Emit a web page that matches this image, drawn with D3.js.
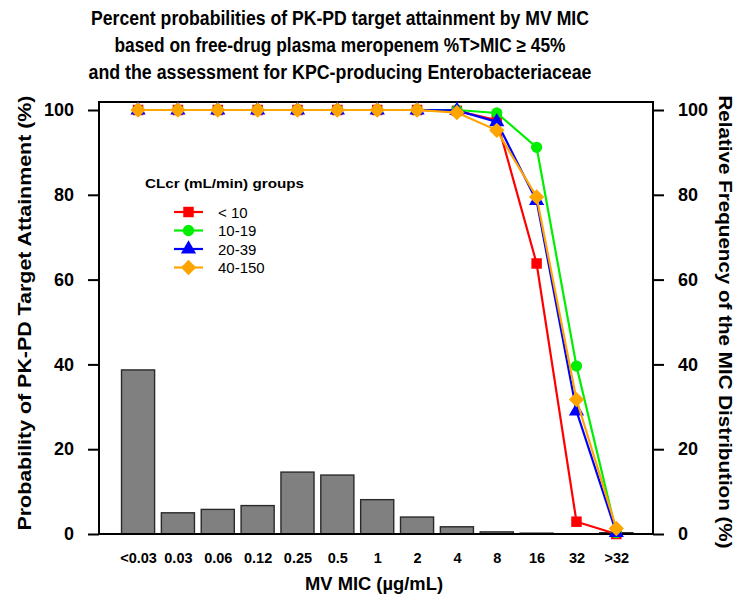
<!DOCTYPE html>
<html>
<head>
<meta charset="utf-8">
<script src="https://cdn.jsdelivr.net/npm/d3@7"></script>
<style>
  body { margin: 0; background: #fff; }
  text { font-family: Arial, "Liberation Sans", sans-serif; }
</style>
</head>
<body>
<svg id="chart" width="739" height="601"></svg>
<script>
// MIC categories and the relative frequency of the MIC distribution (%)
const micLabels = ["<0.03", "0.03", "0.06", "0.12", "0.25", "0.5", "1", "2", "4", "8", "16", "32", ">32"]
const micFreq = [38.7, 5.0, 5.8, 6.7, 14.6, 13.9, 8.1, 4.0, 1.7, 0.5, 0.2, 0.05, 0.3]

// probability of target attainment (%) per CLcr group
const ptaLt10 = [100, 100, 100, 100, 100, 100, 100, 100, 99.8, 97.6, 63.8, 2.9, 0]
const pta10to19 = [100, 100, 100, 100, 100, 100, 100, 100, 100, 99.3, 91.2, 39.6, 0.3]
const pta20to39 = [100, 100, 100, 100, 100, 100, 100, 100, 99.9, 97.2, 78.6, 29.0, 0.3]
const pta40to150 = [100, 100, 100, 100, 100, 100, 100, 100, 99.4, 95.2, 79.5, 31.7, 1.3]

const groupNames = ["< 10", "10-19", "20-39", "40-150"]
const yTicks = [0, 20, 40, 60, 80, 100]

const series = [
  {name: groupNames[0], values: ptaLt10, color: "#ff0000", shape: d3.symbolSquare, size: 110},
  {name: groupNames[1], values: pta10to19, color: "#00ee00", shape: d3.symbolCircle, size: 100},
  {name: groupNames[2], values: pta20to39, color: "#0000ff", shape: d3.symbolTriangle, size: 100},
  {name: groupNames[3], values: pta40to150, color: "#ffa500", shape: d3.symbolDiamond2, size: 150}
]

const svg = d3.select("#chart")
const L = 99, R = 653, T = 102, B = 534

const x = d3.scaleLinear().domain([-0.98, 12.92]).range([L, R])
const y = d3.scaleLinear().domain([0, 100]).range([B, 110])

// bars (relative frequency, right axis, same 0-100 scale)
const bw = 0.83
svg.append("g").selectAll("rect")
  .data(micFreq)
  .join("rect")
  .attr("x", (d, i) => x(i - bw / 2))
  .attr("width", x(bw) - x(0))
  .attr("y", d => y(d))
  .attr("height", d => B - y(d))
  .attr("fill", "#808080")
  .attr("stroke", "#2a2a2a")
  .attr("stroke-width", 1.4)

// frame
svg.append("rect")
  .attr("x", L).attr("y", T)
  .attr("width", R - L).attr("height", B - T)
  .attr("fill", "none")
  .attr("stroke", "#000")
  .attr("stroke-width", 2)

// left axis
const yl = svg.append("g")
  .attr("transform", `translate(${L},0)`)
  .call(d3.axisLeft(y).tickValues(yTicks).tickSize(11).tickPadding(14))
yl.select(".domain").remove()
yl.selectAll("line").attr("stroke-width", 2)
yl.selectAll("text").style("font-size", "18px").style("font-weight", "bold").attr("fill", "#000")

// right axis
const yr = svg.append("g")
  .attr("transform", `translate(${R},0)`)
  .call(d3.axisRight(y).tickValues(yTicks).tickSize(11).tickPadding(14))
yr.select(".domain").remove()
yr.selectAll("line").attr("stroke-width", 2)
yr.selectAll("text").style("font-size", "18px").style("font-weight", "bold").attr("fill", "#000")

// x axis labels
const xa = svg.append("g")
  .attr("transform", `translate(0,${B})`)
  .call(d3.axisBottom(x).tickValues(d3.range(micLabels.length)).tickFormat(i => micLabels[i]).tickSize(0).tickPadding(19))
xa.select(".domain").remove()
xa.selectAll("text").style("font-size", "14.5px").style("font-weight", "bold").attr("fill", "#000")

// PTA lines and markers
const line = d3.line().x((d, i) => x(i)).y(d => y(d))
series.forEach(s => {
  const g = svg.append("g")
  g.append("path")
    .attr("d", line(s.values))
    .attr("fill", "none")
    .attr("stroke", s.color)
    .attr("stroke-width", 2.2)
  g.selectAll("path.pt")
    .data(s.values)
    .join("path")
    .attr("class", "pt")
    .attr("transform", (d, i) => `translate(${x(i)},${y(d)})`)
    .attr("d", d3.symbol().type(s.shape).size(s.size))
    .attr("fill", s.color)
})

// legend
const lg = svg.append("g")
lg.append("text")
  .attr("x", 145).attr("y", 188)
  .attr("textLength", 159).attr("lengthAdjust", "spacingAndGlyphs")
  .style("font-size", "13.5px").style("font-weight", "bold")
  .text("CLcr (mL/min) groups")
series.forEach((s, k) => {
  const ly = 212 + k * 18.5
  lg.append("line")
    .attr("x1", 174).attr("x2", 203).attr("y1", ly).attr("y2", ly)
    .attr("stroke", s.color).attr("stroke-width", 2.2)
  lg.append("path")
    .attr("transform", `translate(188.5,${ly})`)
    .attr("d", d3.symbol().type(s.shape).size(s.size))
    .attr("fill", s.color)
  lg.append("text")
    .attr("x", 218).attr("y", ly + 5.5)
    .style("font-size", "15px")
    .text(s.name)
})

// titles
const title = ["Percent probabilities of PK-PD target attainment by MV MIC",
  "based on free-drug plasma meropenem %T>MIC \u2265 45%",
  "and the assessment for KPC-producing Enterobacteriaceae"]
const titleWidths = [498, 451, 503]
svg.append("g").selectAll("text")
  .data(title)
  .join("text")
  .attr("x", 340).attr("y", (d, i) => 25 + i * 27)
  .attr("text-anchor", "middle")
  .attr("textLength", (d, i) => titleWidths[i]).attr("lengthAdjust", "spacingAndGlyphs")
  .style("font-size", "19.5px").style("font-weight", "bold")
  .text(d => d)

svg.append("text")
  .attr("transform", `translate(31,313) rotate(-90)`)
  .attr("text-anchor", "middle")
  .attr("textLength", 435).attr("lengthAdjust", "spacingAndGlyphs")
  .style("font-size", "19px").style("font-weight", "bold")
  .text("Probability of PK-PD Target Attainment (%)")

svg.append("text")
  .attr("transform", `translate(719,322) rotate(90)`)
  .attr("text-anchor", "middle")
  .attr("textLength", 453).attr("lengthAdjust", "spacingAndGlyphs")
  .style("font-size", "19px").style("font-weight", "bold")
  .text("Relative Frequency of the MIC Distribution (%)")

svg.append("text")
  .attr("x", 374).attr("y", 590)
  .attr("text-anchor", "middle")
  .attr("textLength", 138).attr("lengthAdjust", "spacingAndGlyphs")
  .style("font-size", "19px").style("font-weight", "bold")
  .text("MV MIC (\u00B5g/mL)")
</script>
</body>
</html>
